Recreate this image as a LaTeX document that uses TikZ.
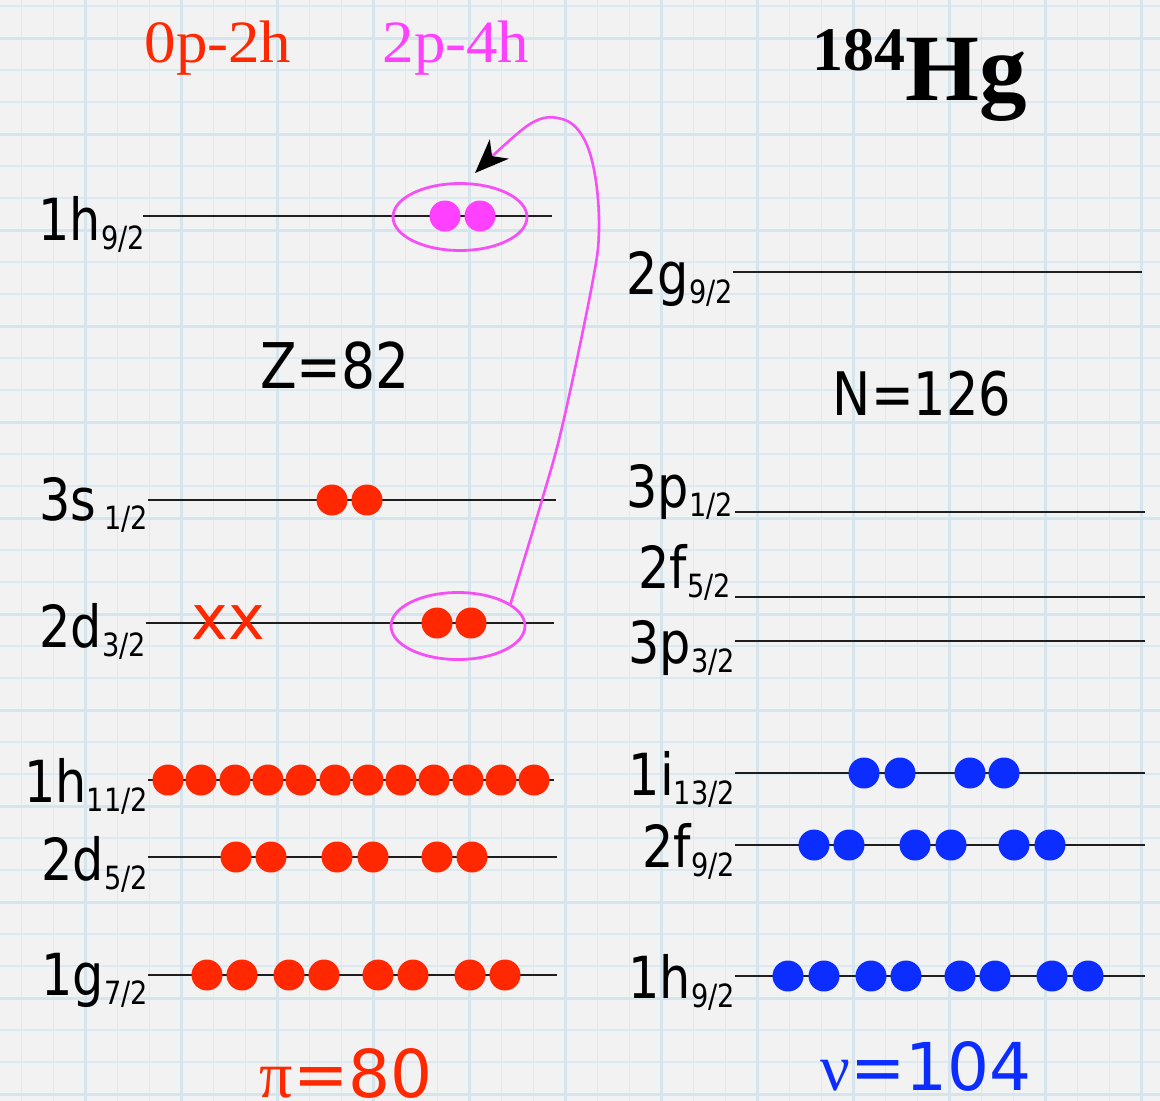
\documentclass[tikz,border=0pt]{standalone}
\usepackage{fontspec}
\setmainfont{DejaVu Sans}
\newfontfamily\labfont[FakeStretch=0.85]{DejaVu Sans}
\newfontfamily\serifw{Liberation Serif}
\newfontfamily\serift[FakeStretch=1.05]{Liberation Serif}
\newfontfamily\xfont{DejaVu Sans}
\usetikzlibrary{shapes.geometric,arrows.meta}
\definecolor{bg}{RGB}{242,242,242}
\definecolor{gridthin}{RGB}{219,233,240}
\definecolor{gridthick}{RGB}{212,229,238}
\definecolor{pred}{RGB}{255,40,0}
\definecolor{nblue}{RGB}{12,45,255}
\definecolor{pmag}{RGB}{255,64,255}
\definecolor{emag}{RGB}{245,80,245}
\definecolor{lvl}{RGB}{30,30,30}
\newcommand{\orblab}[2]{{\labfont\fontsize{58pt}{62pt}\selectfont #1\raisebox{-9pt}{\fontsize{32pt}{34pt}\selectfont #2}}}
\begin{document}
\begin{tikzpicture}[x=1pt,y=-1pt,
  shell/.style={draw=lvl, line width=2.8pt},
  orbital/.style={anchor=base east, inner sep=0pt, outer sep=0pt},
  rdot/.style={circle, fill=pred, minimum size=31pt, inner sep=0pt},
  bdot/.style={circle, fill=nblue, minimum size=31pt, inner sep=0pt},
  mdot/.style={circle, fill=pmag, minimum size=31pt, inner sep=0pt},
  ring/.style={ellipse, draw=emag, line width=2.8pt, minimum width=134pt, minimum height=67pt, inner sep=0pt},
  bigtxt/.style={anchor=base, inner sep=0pt}]
% background
\fill[bg] (0,0) rectangle (1160,1101);
\useasboundingbox (0,0) rectangle (1160,1101);
% grid
\foreach \k in {0,...,35} \draw[gridthin, line width=1.3pt] ({21.5+32*\k},0) -- ({21.5+32*\k},1101);
\foreach \k in {0,...,34} \draw[gridthin, line width=1.3pt] (0,{6+32*\k}) -- (1160,{6+32*\k});
\foreach \k in {0,...,11} \draw[gridthick, line width=3pt] ({85.5+96*\k},0) -- ({85.5+96*\k},1101);
\foreach \k in {0,...,11} \draw[gridthick, line width=3pt] (0,{38+96*\k}) -- (1160,{38+96*\k});

% ---------- left (protons) ----------
\draw[shell] (143,216) -- (552,216);
\draw[shell] (148,500) -- (556,500);
\draw[shell] (146,623) -- (554,623);
\draw[shell] (148,780) -- (554,780);
\draw[shell] (148,857) -- (557,857);
\draw[shell] (148,975) -- (557,975);

\node[orbital] (lA) at (145,240) {\orblab{1h}{9/2}};
\node[orbital] (lB) at (148,520) {\orblab{3s\hspace{8pt}}{1/2}};
\node[orbital] (lC) at (146,647) {\orblab{2d}{3/2}};
\node[orbital] (lD) at (148,802) {\orblab{1h}{11/2}};
\node[orbital] (lE) at (148,880) {\orblab{2d}{5/2}};
\node[orbital] (lF) at (148,995) {\orblab{1g}{7/2}};

% ---------- right (neutrons) ----------
\draw[shell] (733,272) -- (1142,272);
\draw[shell] (735,512) -- (1145,512);
\draw[shell] (735,597) -- (1145,597);
\draw[shell] (735,641) -- (1145,641);
\draw[shell] (735,773) -- (1145,773);
\draw[shell] (735,845) -- (1145,845);
\draw[shell] (735,976) -- (1145,976);

\node[orbital] (rA) at (733,294) {\orblab{2g}{9/2}};
\node[orbital] (rB) at (733,507) {\orblab{3p}{1/2}};
\node[orbital] (rC) at (731,588) {\orblab{2f}{5/2}};
\node[orbital] (rD) at (735,663) {\orblab{3p}{3/2}};
\node[orbital] (rE) at (735,795) {\orblab{1i}{13/2}};
\node[orbital] (rF) at (735,867) {\orblab{2f}{9/2}};
\node[orbital] (rG) at (735,998) {\orblab{1h}{9/2}};

% ---------- particles ----------
\foreach \x [count=\i] in {445,480} \node[mdot] (mA\i) at (\x,216) {};
\foreach \x [count=\i] in {332,367} \node[rdot] (pB\i) at (\x,500) {};
\foreach \x [count=\i] in {437,471} \node[rdot] (pC\i) at (\x,623) {};
\foreach \x [count=\i] in {168,201,235,268,301,335,368,401,434,468,501,534} \node[rdot] (pD\i) at (\x,780) {};
\foreach \x [count=\i] in {236,271,337,373,437,472} \node[rdot] (pE\i) at (\x,857) {};
\foreach \x [count=\i] in {207,242,289,324,378,413,470,505} \node[rdot] (pF\i) at (\x,975) {};
\foreach \x [count=\i] in {864,900,970,1004} \node[bdot] (nE\i) at (\x,773) {};
\foreach \x [count=\i] in {814,849,915,951,1014,1050} \node[bdot] (nF\i) at (\x,845) {};
\foreach \x [count=\i] in {788,824,871,906,960,995,1052,1088} \node[bdot] (nG\i) at (\x,976) {};

\node[bigtxt, text=pred, font={\xfont\fontsize{62pt}{62pt}\selectfont}] (holes) at (228.5,639) {xx};

% ---------- excitation ----------
\node[ring] (e1) at (460,217) {};
\node[ring] (e2) at (458,626) {};
\coordinate (tip) at (475,173);
\draw[emag, line width=2.6pt, -{Stealth[length=34pt,width=27pt,inset=10pt,black]}]
  plot[smooth, tension=0.6] coordinates {(e2.23) (542,500) (563,423) (592,285) (599,230) (595,175) (583,137) (562,119) (530,124) (tip)};

% ---------- titles ----------
\node[bigtxt, text=pred, font={\serift\fontsize{60pt}{66pt}\selectfont}] (c0) at (218,62) {0p-2h};
\node[bigtxt, text=pmag, font={\serift\fontsize{60pt}{66pt}\selectfont}] (c2) at (456,62) {2p-4h};
\node[bigtxt, font={\serifw\bfseries}] (hg) at (920,100) {{\fontsize{62pt}{66pt}\selectfont\raisebox{30pt}{184}}{\fontsize{95pt}{100pt}\selectfont Hg}};
\node[bigtxt, font={\labfont\fontsize{63pt}{66pt}\selectfont}] (zz) at (335,388) {Z=82};
\node[bigtxt, font={\labfont\fontsize{60pt}{64pt}\selectfont}] (nn) at (922,415) {N=126};
\node[bigtxt, text=pred, font={\xfont\fontsize{66pt}{70pt}\selectfont}] (pi) at (346,1097) {{\serifw π}=80};
\node[bigtxt, text=nblue, font={\xfont\fontsize{66pt}{70pt}\selectfont}] (nu) at (926,1090) {{\serifw ν}=104};
\end{tikzpicture}
\end{document}
